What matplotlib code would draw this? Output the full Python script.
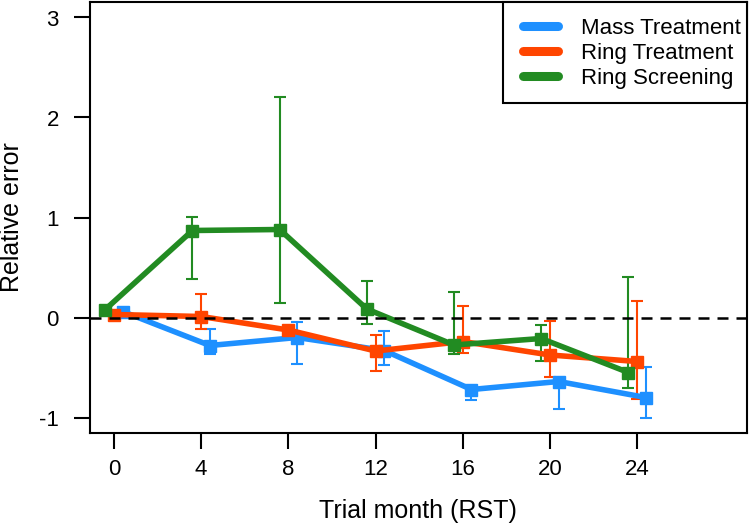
import numpy as np
import matplotlib
matplotlib.use("Agg")
import matplotlib.pyplot as plt
from matplotlib.patches import Rectangle

plt.rcParams['font.family'] = ['Liberation Sans', 'DejaVu Sans']
plt.rcParams['axes.unicode_minus'] = False

# trial months and the horizontal dodge for each group
months = np.array([0, 4, 8, 12, 16, 20, 24])
series_names = ["Mass Treatment", "Ring Treatment", "Ring Screening"]
series_colors = ["#1E90FF", "#FF4500", "#228B22"]
dodge = [0.4, 0.0, -0.4]

# relative error (point, lower, upper)
mass_mean = [0.06, -0.28, -0.20, -0.33, -0.72, -0.64, -0.80]
mass_lo = [0.02, -0.365, -0.465, -0.47, -0.82, -0.91, -1.00]
mass_hi = [0.09, -0.11, -0.04, -0.13, -0.68, -0.60, -0.49]

ring_mean = [0.03, 0.01, -0.125, -0.335, -0.24, -0.375, -0.44]
ring_lo = [0.00, -0.115, -0.16, -0.53, -0.35, -0.59, -0.81]
ring_hi = [0.06, 0.235, -0.09, -0.17, 0.12, -0.03, 0.17]

screen_mean = [0.08, 0.87, 0.88, 0.085, -0.275, -0.21, -0.55]
screen_lo = [0.04, 0.385, 0.15, -0.06, -0.36, -0.435, -0.70]
screen_hi = [0.12, 1.01, 2.20, 0.37, 0.26, -0.075, 0.41]

means = [mass_mean, ring_mean, screen_mean]
lows = [mass_lo, ring_lo, screen_lo]
highs = [mass_hi, ring_hi, screen_hi]

W, H = 750, 529
fig = plt.figure(figsize=(W / 100, H / 100), dpi=100)
ax = fig.add_axes([90 / W, 1 - 433 / H, 657 / W, 431 / H])

handles = []
for name, col, dx, m, lo, hi in zip(series_names, series_colors, dodge, means, lows, highs):
    m = np.asarray(m)
    err = np.vstack([m - np.asarray(lo), np.asarray(hi) - m])
    ax.errorbar(months + dx, m, yerr=err, fmt="none", ecolor=col,
                elinewidth=1.5, capsize=4.3, capthick=1.5, zorder=2)
    ax.plot(months + dx, m, color=col, lw=4, marker="s",
            markersize=8.5, solid_joinstyle="miter", zorder=3)
    handles.append(plt.Line2D([], [], color=col, lw=6.5, solid_capstyle="round", label=name))

ax.axhline(0, color="black", lw=1.8, linestyle=(0, (4.4, 3.2)), zorder=4)

ax.set_xlim(-1.10, 29.04)
ax.set_ylim(-1.155, 3.155)
ax.set_xticks(months)
ax.set_yticks([-1, 0, 1, 2, 3])

for sp in ax.spines.values():
    sp.set_linewidth(1.5)
ax.tick_params(axis="both", length=11.5, width=1.5, labelsize=16)
ax.tick_params(axis="x", pad=7.5)
ax.tick_params(axis="y", pad=11)

# legend frame drawn by hand (R-style box), entries placed inside it
box = Rectangle((503 / W, 1 - 103 / H), 244 / W, 101 / H, transform=fig.transFigure,
                facecolor="white", edgecolor="black", lw=1.5, zorder=5, clip_on=False)
ax.add_patch(box)
leg = ax.legend(handles=handles, loc="upper right", bbox_to_anchor=(1 + 10 / 657, 1),
                fontsize=16, frameon=False, borderaxespad=0,
                handlelength=1.55, handletextpad=1.05, labelspacing=0.17,
                borderpad=0.72)
leg.set_zorder(6)

fig.text(418 / W, 1 - 511 / H, "Trial month (RST)", fontsize=18,
         ha="center", va="center")
fig.text(12 / W, 1 - 217 / H, "Relative error", fontsize=18,
         ha="center", va="center", rotation=90)

fig.savefig("out.png", dpi=100)
